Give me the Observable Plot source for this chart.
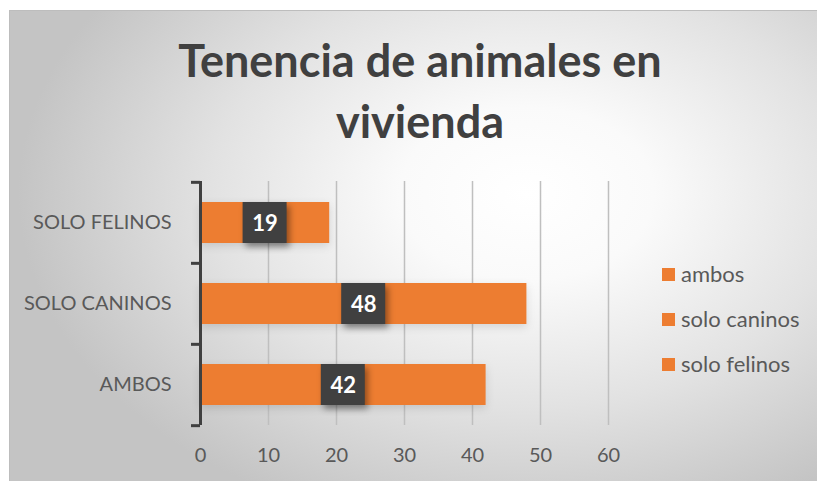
<!DOCTYPE html>
<html>
<head>
<meta charset="utf-8">
<script src="https://cdn.jsdelivr.net/npm/d3@7"></script>
<script src="https://cdn.jsdelivr.net/npm/@observablehq/plot@0.6"></script>
<style>
  html, body { margin: 0; padding: 0; background: #fff; }
  #wrap { position: relative; width: 817px; height: 481px; overflow: hidden; font-family: Lato, "Open Sans", sans-serif; }
  #frame { position: absolute; left: 9px; top: 10px; width: 820px; height: 480px; border: 1px solid #bdbdbd;
    background: radial-gradient(ellipse 62% 72% at 63% 38%, #ffffff 0%, #fafafa 25%, #e2e2e2 62%, #c4c4c4 100%); }
  #title { position: absolute; left: 0; width: 840px; top: 30px; text-align: center; font-weight: 700; font-size: 45px; line-height: 61px; color: #404040; }
  #chart { position: absolute; left: 0; top: 165px; }
  #legend { position: absolute; left: 662px; top: 260px; font-size: 22px; color: #595959; }
  .li { position: relative; height: 45px; line-height: 28px; padding-left: 19px; }
  .sw { position: absolute; left: 0; top: 8px; width: 13px; height: 13px; background: #ED7D31; }
</style>
</head>
<body>
<div id="wrap">
  <div id="frame"></div>
  <div id="title">Tenencia de animales en<br>vivienda</div>
  <div id="chart"></div>
  <div id="legend"></div>
</div>
<script>
const categories = ["SOLO FELINOS", "SOLO CANINOS", "AMBOS"];
const values = [19, 48, 42];
const legendLabels = ["ambos", "solo caninos", "solo felinos"];
const xTicks = [0, 10, 20, 30, 40, 50, 60];

const data = categories.map((c, i) => ({cat: c, v: values[i]}));
const height = 310, marginTop = 16, marginBottom = 50;
const step = (height - marginTop - marginBottom) / categories.length;

const plot = Plot.plot({
  width: 640,
  height,
  marginLeft: 200,
  marginRight: 32,
  marginTop,
  marginBottom,
  style: {background: "transparent", fontFamily: "Lato, 'Open Sans', sans-serif", fontSize: "20px", color: "#595959", overflow: "visible"},
  x: {domain: [0, 60], label: null},
  y: {domain: categories, paddingInner: 0.5, paddingOuter: 0.25, label: null},
  marks: [
    Plot.ruleX(xTicks.slice(1), {stroke: "#bfbfbf", strokeWidth: 1.5}),
    Plot.barX(data, {x: "v", y: "cat", fill: "#ED7D31"}),
    Plot.rect(data, {x1: d => d.v / 2, x2: d => d.v / 2, y: "cat", insetLeft: -22, insetRight: -22, fill: "#404040"}),
    Plot.text(data, {x: d => d.v / 2, y: "cat", text: d => String(d.v), fill: "white", fontWeight: "bold", fontSize: 22, dy: 1}),
    Plot.ruleX([0], {stroke: "#404040", strokeWidth: 3}),
    Plot.ruleY(categories, {y: d => d, x1: 0, x2: 0, insetLeft: -9, dy: -step / 2, stroke: "#404040", strokeWidth: 3}),
    Plot.ruleY(categories.slice(-1), {y: d => d, x1: 0, x2: 0, insetLeft: -9, dy: step / 2, stroke: "#404040", strokeWidth: 3}),
    Plot.axisX({ticks: xTicks, tickSize: 0, tickPadding: 22, fontSize: 20, label: null}),
    Plot.axisY({tickSize: 0, tickPadding: 29, fontSize: 20, label: null})
  ]
});
document.getElementById("chart").appendChild(plot);
d3.select(plot).selectAll("g[aria-label='rect'] rect").style("filter", "drop-shadow(3px 4px 3px rgba(0,0,0,0.4))");
d3.select(plot).selectAll("g[aria-label='bar'] rect").style("filter", "drop-shadow(0px 3px 4px rgba(0,0,0,0.12))");

const lg = d3.select("#legend");
legendLabels.forEach(l => {
  const row = lg.append("div").attr("class", "li");
  row.append("span").attr("class", "sw");
  row.append("span").text(l);
});
</script>
</body>
</html>
